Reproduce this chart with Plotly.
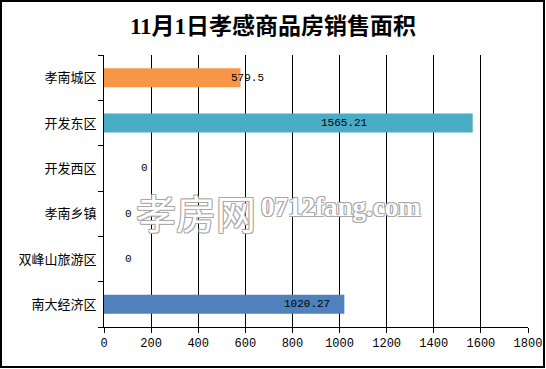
import plotly.graph_objects as go

categories = ["孝南城区", "开发东区", "开发西区", "孝南乡镇", "双峰山旅游区", "南大经济区"]
values = [579.5, 1565.21, 0, 0, 0, 1020.27]
labels = ["579.5", "1565.21", "0", "0", "0", "1020.27"]
colors = ["#F79646", "#4BACC6", "#4F81BD", "#4F81BD", "#4F81BD", "#4F81BD"]
label_x = [611, 1023, 174, 106, 102, 862]
x_ticks = [0, 200, 400, 600, 800, 1000, 1200, 1400, 1600, 1800]

W, H = 546, 369
ml, mr, mt, mb = 104, 18, 55, 42
pw, ph = W - ml - mr, H - mt - mb

fig = go.Figure()
fig.add_trace(go.Bar(
    y=categories, x=values, orientation="h",
    marker=dict(color=colors, line=dict(width=0)),
    width=0.42, hoverinfo="skip",
))

for c, lx, t in zip(categories, label_x, labels):
    fig.add_annotation(x=lx, y=c, text=t, showarrow=False, xref="x", yref="y",
                       font=dict(family="Liberation Mono, DejaVu Sans Mono", size=11, color="black"))

# watermark
outline = "1px 1px 0 #a8a8a8, -1px -1px 0 #a8a8a8, 1px -1px 0 #a8a8a8, -1px 1px 0 #a8a8a8"
fig.add_annotation(x=(258 - ml) / pw, y=1 - (212 - mt) / ph, xref="paper", yref="paper",
                   text="孝房网", showarrow=False, xanchor="right", yanchor="middle",
                   font=dict(family="Noto Sans CJK SC", size=40, color="white", shadow=outline))
fig.add_annotation(x=(259 - ml) / pw, y=1 - (207 - mt) / ph, xref="paper", yref="paper",
                   text="<b>0712fang.com</b>", showarrow=False, xanchor="left", yanchor="middle",
                   font=dict(family="Liberation Serif", size=27, color="white", shadow=outline))

# outer border
fig.add_shape(type="rect", xref="paper", yref="paper",
              x0=(1 - ml) / pw, x1=(544 - ml) / pw,
              y0=1 + (mt - 1) / ph, y1=-(367 - (H - mb)) / ph,
              line=dict(color="black", width=2), fillcolor="rgba(0,0,0,0)", layer="above")

fig.update_layout(
    width=W, height=H,
    margin=dict(l=ml, r=mr, t=mt, b=mb, autoexpand=False),
    paper_bgcolor="white", plot_bgcolor="white",
    showlegend=False,
    title=dict(text="<b>11月1日孝感商品房销售面积</b>", x=0.5, xref="container", xanchor="center",
               y=1 - 26 / H, yanchor="middle", yref="container",
               font=dict(family="Liberation Serif, Noto Sans CJK SC", size=23, color="black")),
    xaxis=dict(range=[0, 1800], tickvals=x_ticks, showgrid=True, gridcolor="black", gridwidth=1,
               showline=True, linecolor="black", linewidth=1, ticks="outside", ticklen=5,
               tickcolor="black", zeroline=False, fixedrange=True, automargin=False,
               tickfont=dict(family="Liberation Mono, DejaVu Sans Mono", size=12, color="black")),
    yaxis=dict(categoryorder="array", categoryarray=categories[::-1], showline=True,
               linecolor="black", linewidth=1, ticks="outside", ticklen=5, tickcolor="black",
               tickson="boundaries", showgrid=False, ticklabelstandoff=4, automargin=False,
               tickfont=dict(family="Noto Sans CJK SC", size=13, color="black")),
)

fig.write_html("out.html")
